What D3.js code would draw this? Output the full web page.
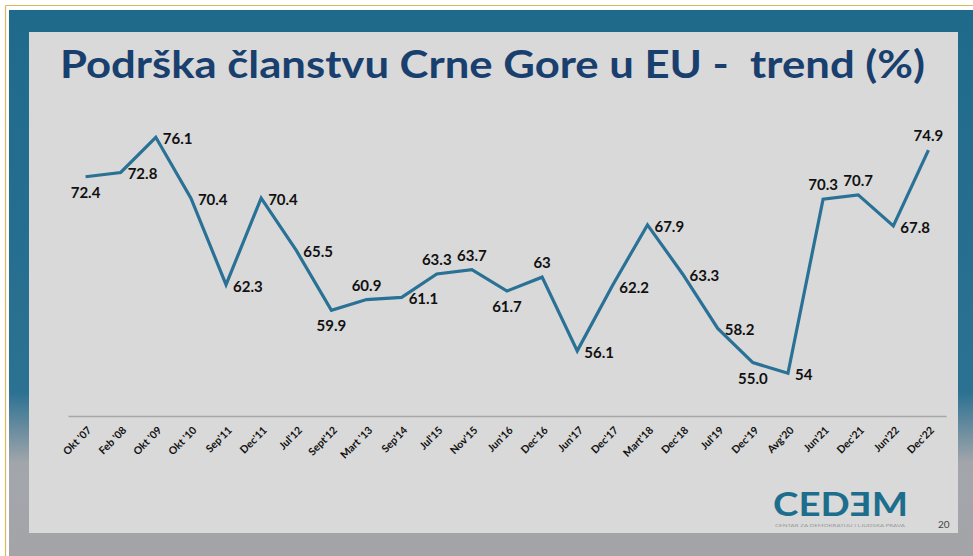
<!DOCTYPE html>
<html lang="sr">
<head>
<meta charset="utf-8">
<title>Podrška članstvu Crne Gore u EU</title>
<script src="https://cdn.jsdelivr.net/npm/d3@7"></script>
<style>
body { margin:0; background:#fff; }
#chart { width:973px; height:556px; }
.title { font-family:"Century Gothic", Lato, sans-serif; font-weight:700; fill:#193f6e; white-space:pre; }
.val { font-family:"Century Gothic", Lato, sans-serif; font-weight:700; font-size:15px; fill:#111; }
.xlab { font-family:"Century Gothic", Lato, sans-serif; font-weight:700; font-size:10.5px; fill:#111; }
</style>
</head>
<body>
<div id="chart"></div>
<script>
// periodi istraživanja
var periods = ["Okt '07","Feb '08","Okt '09","Okt '10","Sep'11","Dec'11","Jul'12","Sept'12","Mart '13","Sep'14",
	"Jul'15","Nov'15","Jun'16","Dec'16","Jun'17","Dec'17","Mart'18","Dec'18","Jul'19","Dec'19",
	"Avg'20","Jun'21","Dec'21","Jun'22","Dec'22"];
// podrška (%)
var support = [72.4, 72.8, 76.1, 70.4, 62.3, 70.4, 65.5, 59.9, 60.9, 61.1,
	63.3, 63.7, 61.7, 63, 56.1, 62.2, 67.9, 63.3, 58.2, 55.0,
	54, 70.3, 70.7, 67.8, 74.9];
var supportText = ["72.4","72.8","76.1","70.4","62.3","70.4","65.5","59.9","60.9","61.1",
	"63.3","63.7","61.7","63","56.1","62.2","67.9","63.3","58.2","55.0",
	"54","70.3","70.7","67.8","74.9"];
// položaj oznake: b = ispod, r = desno, a = iznad
var labelPlace = ["b","r","r","r","r","r","r","b","a","r",
	"a","a","b","a","r","r","r","r","r","b",
	"r","a","a","r","a"];

var W = 973, H = 556;
var svg = d3.select("#chart").append("svg").attr("width", W).attr("height", H);

// okvir slajda
var grad = svg.append("defs").append("linearGradient").attr("id","frame")
	.attr("x1",0).attr("y1",0).attr("x2",0).attr("y2",1);
grad.append("stop").attr("offset","0").attr("stop-color","#1f6a8b");
grad.append("stop").attr("offset","0.70").attr("stop-color","#2b7192");
grad.append("stop").attr("offset","0.83").attr("stop-color","#a2a6ab");
grad.append("stop").attr("offset","1").attr("stop-color","#a4a4a8");

svg.append("line").attr("x1",5.5).attr("y1",5.5).attr("x2",W).attr("y2",5.5).attr("stroke","#d9b95c").attr("stroke-width",1.2);
svg.append("line").attr("x1",5.5).attr("y1",5.5).attr("x2",5.5).attr("y2",H).attr("stroke","#d9b95c").attr("stroke-width",1.2);
svg.append("rect").attr("x",9).attr("y",10).attr("width",W-9).attr("height",H-10).attr("fill","url(#frame)");
svg.append("rect").attr("x",29).attr("y",32).attr("width",929).attr("height",501).attr("fill","#d9d9d9");

svg.append("text").attr("class","title")
	.attr("x",60).attr("y",78)
	.attr("font-size",38)
	.attr("textLength",865).attr("lengthAdjust","spacingAndGlyphs")
	.text("Podrška članstvu Crne Gore u EU -  trend (%)");

var x = d3.scalePoint().domain(periods).range([68, 946]).padding(0.5);
var y = d3.scaleLinear().domain([50, 80]).range([416, 95.6]);

var xAxis = svg.append("g").attr("transform","translate(0,416)")
	.call(d3.axisBottom(x).tickSize(0).tickSizeOuter(0));
xAxis.select(".domain").attr("stroke","#a8a8a8").attr("stroke-width",1.3);
xAxis.selectAll(".tick text").attr("class","xlab")
	.attr("font-family",null).attr("font-size",null).attr("fill",null)
	.attr("text-anchor","end")
	.attr("dy",null).attr("y",0)
	.attr("transform","translate(6,15) rotate(-45)");

var line = d3.line().x(function(d,i){return x(periods[i]);}).y(function(d){return y(d);});
svg.append("path").datum(support)
	.attr("d", line)
	.attr("fill","none").attr("stroke","#2a7196").attr("stroke-width",3.2)
	.attr("stroke-linejoin","miter");

svg.append("g").selectAll("text").data(support).enter().append("text")
	.attr("class","val")
	.attr("x", function(d,i){
		var p = labelPlace[i], px = x(periods[i]);
		return p === "r" ? px + 7 : px;
	})
	.attr("y", function(d,i){
		var p = labelPlace[i], py = y(d);
		if (p === "b") return py + 21;
		if (p === "a") return py - 9;
		return py + 7;
	})
	.attr("text-anchor", function(d,i){ return labelPlace[i] === "r" ? "start" : "middle"; })
	.text(function(d,i){ return supportText[i]; });

// logo
var logo = svg.append("g");
logo.append("text").attr("x",773).attr("y",516)
	.attr("font-family","'Century Gothic', Lato, sans-serif").attr("font-weight",700)
	.attr("font-size",33).attr("fill","#1d6e8d")
	.attr("textLength",135).attr("lengthAdjust","spacingAndGlyphs")
	.text("CEDƎM");
logo.append("text").attr("x",775).attr("y",527)
	.attr("font-family","Lato, sans-serif").attr("font-size",4.5).attr("fill","#9a9a9a")
	.attr("textLength",130).attr("lengthAdjust","spacingAndGlyphs")
	.text("CENTAR ZA DEMOKRATIJU I LJUDSKA PRAVA");
svg.append("text").attr("x",938).attr("y",528)
	.attr("font-family","Lato, sans-serif").attr("font-size",10).attr("fill","#444")
	.text("20");
</script>
</body>
</html>
